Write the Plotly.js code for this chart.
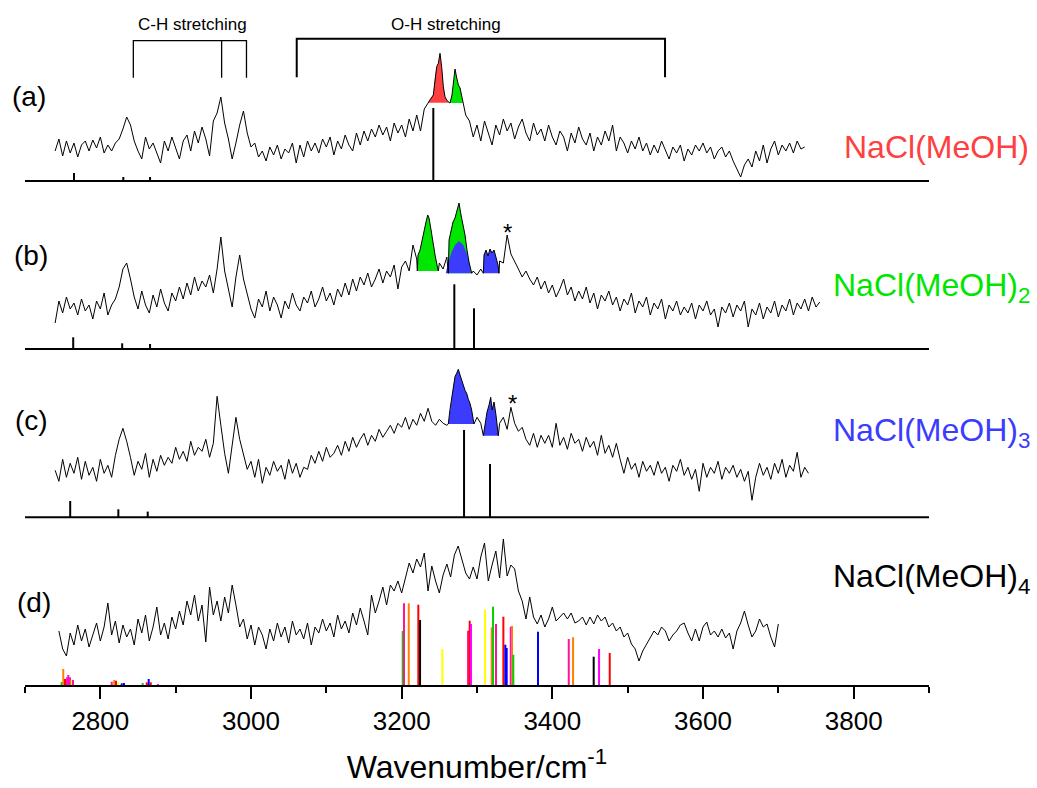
<!DOCTYPE html>
<html>
<head>
<meta charset="utf-8">
<script src="https://cdn.plot.ly/plotly-3.0.1.min.js"></script>
<style>html,body{margin:0;padding:0;background:#fff;}#chart{width:1037px;height:788px;}</style>
</head>
<body>
<div id="chart"></div>
<script>
// ---------------- DATA ----------------
// Spectra on uniform wavenumber grids (cm-1), intensities in arbitrary units
const specA_start = 2740, specA_step = 5;
const specA = [
30,42,25,40,28,38,24,36,40,30,
41,33,44,28,36,30,38,42,52,64,
56,40,30,22,44,32,38,28,18,40,
30,44,34,22,40,46,30,50,38,54,
42,25,60,68,84,58,42,22,38,56,
70,48,34,38,24,30,20,34,26,36,
22,32,28,38,18,36,24,40,30,38,
28,42,34,44,26,40,32,46,36,30,
48,36,50,40,52,44,56,46,54,40,
58,48,56,44,62,50,66,50,72,78,
90,110,125,100,80,85,100,90,78,66,
60,44,56,40,60,48,36,56,46,62,
50,58,42,54,62,48,40,58,46,52,
40,56,44,36,50,44,30,48,38,54,
42,36,48,30,44,36,50,40,56,30,
44,38,28,40,32,44,30,38,26,36,
28,40,30,22,34,28,36,20,32,26,
36,30,38,28,34,22,30,34,24,30,
20,12,4,16,22,14,30,20,36,18,
32,40,26,36,30,38,28,40,32,34
];
const specB_start = 2740, specB_step = 5;
const specB = [
26,48,36,52,40,46,34,50,38,44,
30,48,40,56,34,44,50,62,80,86,
70,52,40,58,44,36,54,42,60,46,
38,56,48,62,50,66,54,72,58,68,
62,74,56,80,112,78,60,42,72,94,
70,54,40,31,50,42,58,38,52,44,
31,48,40,56,44,38,52,46,58,42,
50,62,48,56,44,60,52,66,54,70,
58,72,64,76,62,70,80,66,78,72,
84,60,82,88,78,104,90,110,130,120,
100,84,86,80,92,84,110,130,140,110,
86,78,74,80,84,96,98,94,88,86,
114,95,88,80,72,78,70,64,72,60,
68,56,64,52,60,70,54,62,48,58,
50,62,46,56,40,54,48,58,44,52,
38,50,44,56,36,48,42,52,34,46,
40,50,30,44,38,48,34,42,36,46,
30,44,38,48,34,40,22,42,36,46,
32,44,38,48,22,40,34,46,30,42,
36,48,32,44,38,50,34,46,40,50,
38,52,42,47
];
const specC_start = 2740, specC_step = 5;
const specC = [
47,36,58,40,54,44,60,38,56,42,
50,36,58,44,52,40,62,78,89,76,
60,42,56,48,64,40,58,46,62,52,
60,54,70,58,66,56,76,62,70,66,
78,60,74,121,92,64,44,72,100,78,
62,48,56,40,58,34,50,42,56,46,
52,38,58,44,54,40,50,48,62,54,
66,56,70,60,64,72,62,76,66,80,
70,78,84,72,82,76,88,80,86,92,
84,94,90,100,88,98,92,104,96,109,
96,92,98,94,92,146,138,124,112,100,
104,96,100,94,110,112,104,90,94,100,
88,110,94,86,90,78,72,84,70,82,
74,82,70,94,72,80,68,84,74,78,
66,80,70,76,62,82,64,72,60,74,
58,44,60,48,54,40,56,46,52,42,
56,44,50,36,52,46,58,42,50,38,
48,26,54,40,50,44,56,38,50,44,
52,40,48,36,46,17,40,54,42,50,
38,54,44,58,40,52,46,65,40,50,
44
];
const specD_start = 2745, specD_step = 5;
const specD = [
54,36,29,52,40,60,44,56,38,50,
62,44,58,82,50,64,42,60,48,56,
40,66,52,70,44,58,78,50,62,46,
68,56,74,60,84,70,90,64,80,43,
98,70,84,64,88,72,100,80,58,66,
46,60,40,58,50,36,56,44,62,48,
58,42,64,50,56,46,62,40,58,52,
66,54,62,48,70,56,64,52,72,60,
77,64,50,90,72,84,98,80,100,94,
104,92,108,122,112,126,118,132,94,119,
104,92,110,121,108,130,139,124,112,106,
118,106,128,142,104,120,134,107,146,109,
120,116,94,84,66,88,68,61,70,58,
66,78,64,68,72,66,72,62,64,68,
60,68,61,70,64,68,58,62,54,58,
48,52,41,36,24,34,41,48,54,50,
58,54,44,50,54,60,62,52,44,56,
44,58,63,50,54,48,56,47,52,36,
54,62,74,60,48,54,66,58,61,48,
38,61
];

// Highlighted (filled) peak profiles
const peakA1_x = [3234.6,3237.6,3242.0,3244.3,3246.5,3248.7,3250.9,3253.1,3255.3,3257.5,3259.8,3263.2];
const peakA1_y = [78.3,81,86,104.3,114.3,117.7,127.7,114.3,94.3,84.3,81,78.3];
const peakA2_x = [3264.2,3266.8,3268.6,3270.8,3273.1,3275.3,3277.5,3279.7,3281.4];
const peakA2_y = [78,86,96,112,103,96,93,86,78];

const peakB1_x = [3220.8,3221.7,3224.4,3227.0,3229.7,3232.3,3234.6,3236.3,3239.0,3241.6,3244.3,3246.9,3248.7];
const peakB1_y = [78,94,99,109,117,127,134,131,119,104,94,84,78];
const peakB2_x = [3261.9,3262.9,3265.5,3268.2,3270.8,3273.5,3276.1,3278.8,3281.4,3284.1,3286.7,3289.4,3293.0];
const peakB2_y = [75.7,109,119,127,131,139,146,134,124,114,99,87,75.7];
const peakB3_x = [3258.5,3262.0,3266.4,3270.8,3276.1,3281.8,3286.3,3289.7,3292.0];
const peakB3_y = [75.7,87.3,97.3,104,108,104,95.7,85.7,75.7];
const peakB4_x = [3308.4,3309.3,3312.0,3314.6,3317.3,3319.9,3322.6,3325.2,3327.9,3329.2];
const peakB4_y = [75.7,94,99,93,100,96,99,91,84,75.7];

const peakC1_x = [3261.9,3264.2,3266.4,3268.6,3270.8,3273.0,3275.2,3277.5,3279.7,3281.8,3284.1,3286.3,3288.5,3290.7,3292.9,3296.0];
const peakC1_y = [93.3,108,120.6,131,140.6,144,148,142.3,136,132.3,127,124,118,114,107.3,93.3];
const peakC2_x = [3308.4,3310.7,3313.3,3316.0,3318.2,3320.0,3322.6,3325.2,3328.3];
const peakC2_y = [81.6,92.3,105.3,112.3,120,107.3,115.3,102.3,81.6];

// Calculated stick spectra
const sticksA_x = [2765,2830.5,2866,3242];
const sticksA_h = [8,4,4,73];
const sticksB_x = [2764,2829,2866,3269.9,3296];
const sticksB_h = [11.7,5.7,5,64.7,40.7];
const sticksC_x = [2760,2823.9,2862.9,3282.8,3317.3];
const sticksC_h = [16.3,8,5.7,87.3,53.3];
const sticksD_x = [2748.7,2750.8,2753.1,2755.8,2757.5,2759.7,2762.0,2763.7,
                   2815.1,2818.5,2820.8,2823.9,2828.4,2831.4,
                   2856.2,2861.6,2864.2,2866.9,2876.6,
                   3201.4,3203.1,3209.4,3222.1,3224.4,3254.0,3288.1,3290.3,3292.0,3310.6,
                   3319.5,3321.3,3325.2,3335.0,3337.6,3339.4,3344.8,3346.5,3348.2,3381.0,
                   3421.8,3427.5,3454.9,3462.0,3476.2];
const sticksD_h = [3,16,6,7.7,10,7.7,5,5,
                   3.3,5,4.3,2.7,1.7,2,
                   2,2.7,6,2.7,1,
                   54,81.7,81.7,80.3,65,36,54.3,64.3,61,75.3,
                   57.7,78.3,61,68.3,40.3,37,58.3,59,30.3,53.3,
                   46,47.7,28.3,36,32];
const sticksD_c = ['gn','or','rd','pk','mg','pk','yl','pk',
                   'pk','or','rd','yl','bl','bl',
                   'gn','rd','bl','rd','mg',
                   'gn','pk','or','rd','bk','yl','pk','rd','mg','yl',
                   'or','gn','pk','rd','bl','bl','mg','or','gn','bl',
                   'pk','or','bk','mg','rd'];

const labels = ['NaCl(MeOH)','NaCl(MeOH)<sub>2</sub>','NaCl(MeOH)<sub>3</sub>','NaCl(MeOH)<sub>4</sub>'];
const panelTags = ['(a)','(b)','(c)','(d)'];
const tickVals = [2800,3000,3200,3400,3600,3800];

// ---------------- STYLE / LAYOUT ----------------
const RED='#ff4040', GREEN='#00e600', BLUE='#3c3cff';
const stickColors = {gn:'#00d000',or:'#ff8000',rd:'#ff0000',pk:'#ff1493',mg:'#ff00ff',yl:'#ffff00',bl:'#0000ff',bk:'#000000'};
const H = 685;                       // plot height in px (y units = px)
const offs = [504, 336, 167.7, 0];   // vertical offsets of the four panels
const L = 25, R = 929;
const px = v => (v - L) / (R - L);
const py = v => (H - v) / H;

function grid(start, step, vals){ return vals.map((_, i) => start + step*i); }

function buildMain(start, step, vals, peaks, off){
  const gx = grid(start, step, vals);
  let pts = [];
  gx.forEach((x, i) => {
    const inside = peaks.some(p => x >= Math.min(...p.x) && x <= Math.max(...p.x));
    if(!inside) pts.push([x, vals[i]]);
  });
  peaks.forEach(p => p.x.forEach((x, i) => pts.push([x, p.y[i]])));
  pts.sort((a, b) => a[0] - b[0]);
  return {x: pts.map(p => p[0]), y: pts.map(p => p[1] + off), mode:'lines', type:'scatter',
          line:{color:'#000', width:1}, hoverinfo:'skip'};
}
function fillTrace(xs, ys, color, off){
  return {x: xs, y: ys.map(v => v + off), mode:'lines', type:'scatter', fill:'toself',
          fillcolor: color, line:{width:0, color:color}, hoverinfo:'skip'};
}
function sticks(xs, hs, color, off){
  const x = [], y = [];
  xs.forEach((v, i) => { x.push(v, v, null); y.push(off, off + hs[i], null); });
  return {x, y, mode:'lines', type:'scatter', line:{color, width:2}, hoverinfo:'skip'};
}

const traces = [];
traces.push(fillTrace(peakA1_x, peakA1_y, RED, offs[0]));
traces.push(fillTrace(peakA2_x, peakA2_y, GREEN, offs[0]));
traces.push(fillTrace(peakB1_x, peakB1_y, GREEN, offs[1]));
traces.push(fillTrace(peakB2_x, peakB2_y, GREEN, offs[1]));
traces.push(fillTrace(peakB3_x, peakB3_y, BLUE, offs[1]));
traces.push(fillTrace(peakB4_x, peakB4_y, BLUE, offs[1]));
traces.push(fillTrace(peakC1_x, peakC1_y, BLUE, offs[2]));
traces.push(fillTrace(peakC2_x, peakC2_y, BLUE, offs[2]));
traces.push(sticks(sticksA_x, sticksA_h, '#000', offs[0]));
traces.push(sticks(sticksB_x, sticksB_h, '#000', offs[1]));
traces.push(sticks(sticksC_x, sticksC_h, '#000', offs[2]));
sticksD_x.forEach((x, i) => traces.push(sticks([x], [sticksD_h[i]], stickColors[sticksD_c[i]], offs[3])));
traces.push(buildMain(specA_start, specA_step, specA, [{x:peakA1_x,y:peakA1_y},{x:peakA2_x,y:peakA2_y}], offs[0]));
traces.push(buildMain(specB_start, specB_step, specB, [{x:peakB1_x,y:peakB1_y},{x:peakB2_x,y:peakB2_y},{x:peakB4_x,y:peakB4_y}], offs[1]));
traces.push(buildMain(specC_start, specC_step, specC, [{x:peakC1_x,y:peakC1_y},{x:peakC2_x,y:peakC2_y}], offs[2]));
traces.push(buildMain(specD_start, specD_step, specD, [], offs[3]));

const shapes = [];
[0,1,2].forEach(k => shapes.push({type:'line', xref:'x', yref:'y', x0:2700, x1:3900, y0:offs[k], y1:offs[k],
  line:{color:'#000', width:2}}));
shapes.push({type:'path', xref:'x', yref:'y', path:'M2843.8,607.3 L2843.8,644.3 L2994,644.3 L2994,607.3 M2961,644.3 L2961,607.3',
  line:{color:'#000', width:1.3}});
shapes.push({type:'path', xref:'x', yref:'y', path:'M3060.7,607.8 L3060.7,646.3 L3549.6,646.3 L3549.6,607.8',
  line:{color:'#000', width:2}});

const FONT = 'Liberation Sans, Arial, Helvetica, sans-serif';
const ann = [];
const tagPos = [[28.5,96.7],[31,255],[31.5,420.8],[34,602]];
panelTags.forEach((t, i) => ann.push({text:t, xref:'paper', yref:'paper', x:px(tagPos[i][0]), y:py(tagPos[i][1]),
  xanchor:'center', yanchor:'middle', showarrow:false, font:{family:FONT, size:28, color:'#000'}}));
const labPos = [[1031,146.7],[1032,287],[1032,432],[1032,578.5]];
const labCol = [RED, GREEN, BLUE, '#000'];
labels.forEach((t, i) => ann.push({text:t, xref:'paper', yref:'paper', x:px(labPos[i][0]), y:py(labPos[i][1]),
  xanchor:'right', yanchor:'middle', showarrow:false, font:{family:FONT, size:32, color:labCol[i]}}));
ann.push({text:'C-H stretching', xref:'paper', yref:'paper', x:px(192), y:py(25), xanchor:'center', yanchor:'middle',
  showarrow:false, font:{family:FONT, size:17, color:'#000'}});
ann.push({text:'O-H stretching', xref:'paper', yref:'paper', x:px(446), y:py(25), xanchor:'center', yanchor:'middle',
  showarrow:false, font:{family:FONT, size:17, color:'#000'}});
ann.push({text:'*', xref:'paper', yref:'paper', x:px(507.5), y:py(232), xanchor:'center', yanchor:'middle',
  showarrow:false, font:{family:FONT, size:24, color:'#000'}});
ann.push({text:'*', xref:'paper', yref:'paper', x:px(512.5), y:py(403), xanchor:'center', yanchor:'middle',
  showarrow:false, font:{family:FONT, size:24, color:'#000'}});

const layout = {
  width:1037, height:788,
  margin:{l:L, r:1037-R, t:0, b:788-H},
  paper_bgcolor:'#fff', plot_bgcolor:'#fff',
  showlegend:false,
  xaxis:{range:[2700,3900], showline:true, linewidth:2, linecolor:'#000', showgrid:false, zeroline:false,
    ticks:'outside', tickmode:'array', tickvals:tickVals, ticktext:tickVals.map(String), ticklen:12, tickwidth:2, tickcolor:'#000',
    minor:{ticks:'outside', dtick:100, tick0:2700, ticklen:6, tickwidth:2, tickcolor:'#000', showgrid:false},
    tickfont:{family:FONT, size:26, color:'#000'},
    title:{text:'Wavenumber/cm<sup>-1</sup>', font:{family:FONT, size:32, color:'#000'}, standoff:20},
    fixedrange:true},
  yaxis:{range:[0,H], visible:false, fixedrange:true},
  shapes, annotations:ann
};
Plotly.newPlot('chart', traces, layout, {staticPlot:true, displayModeBar:false});
</script>
</body>
</html>
